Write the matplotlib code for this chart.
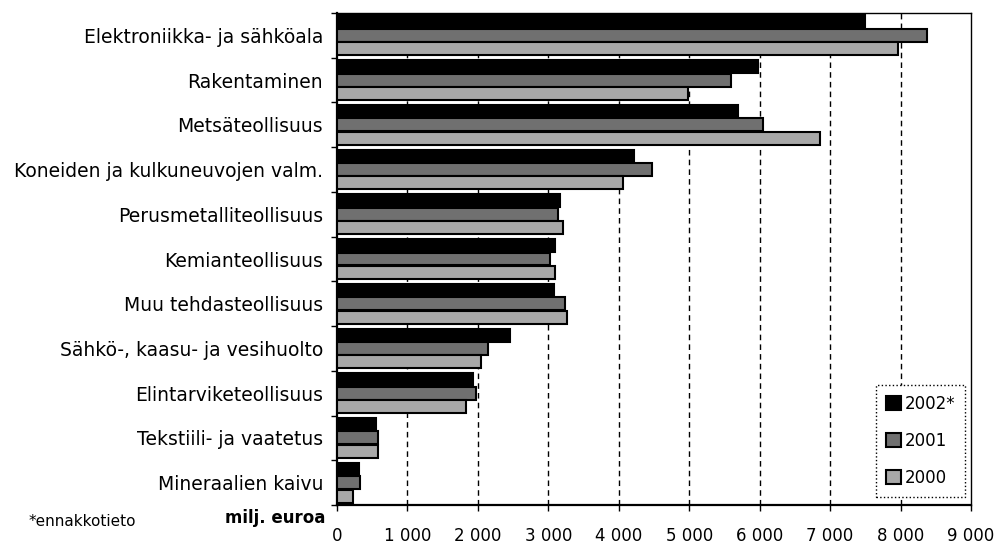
import numpy as np
import matplotlib
matplotlib.use("Agg")
import matplotlib.pyplot as plt
from matplotlib.ticker import FuncFormatter

categories = [
    "Elektroniikka- ja sähköala",
    "Rakentaminen",
    "Metsäteollisuus",
    "Koneiden ja kulkuneuvojen valm.",
    "Perusmetalliteollisuus",
    "Kemianteollisuus",
    "Muu tehdasteollisuus",
    "Sähkö-, kaasu- ja vesihuolto",
    "Elintarviketeollisuus",
    "Tekstiili- ja vaatetus",
    "Mineraalien kaivu",
]
v2002 = [7500, 5970, 5690, 4210, 3160, 3100, 3080, 2450, 1930, 550, 315]
v2001 = [8380, 5600, 6050, 4470, 3130, 3030, 3240, 2140, 1975, 575, 320]
v2000 = [7960, 4980, 6850, 4060, 3210, 3100, 3270, 2050, 1825, 575, 225]
series_labels = ["2002*", "2001", "2000"]
series_colors = ["#000000", "#707070", "#a8a8a8"]

fig = plt.figure(figsize=(10.01, 5.47), dpi=100)
ax = fig.add_axes([0.3367, 0.0768, 0.6333, 0.8994])

y = np.arange(len(categories))
h = 0.29
offsets = [-0.3, 0.0, 0.3]
for vals, off, col, lab in zip([v2002, v2001, v2000], offsets, series_colors, series_labels):
    ax.barh(y + off, vals, height=h, color=col, edgecolor="black", linewidth=1.5, label=lab, zorder=3)

ax.set_xlim(0, 9000)
ax.set_ylim(len(categories) - 0.5, -0.5)

ax.set_xticks(np.arange(0, 9001, 1000))
ax.xaxis.set_major_formatter(FuncFormatter(lambda v, p: f"{int(v):,}".replace(",", " ")))
ax.tick_params(axis="x", labelsize=12, length=4, width=1, pad=12, direction="out")

ax.set_yticks(y)
ax.set_yticklabels(categories, fontsize=13.5)
ax.set_yticks(np.arange(-0.5, len(categories), 1.0), minor=True)
ax.tick_params(axis="y", which="major", length=0, pad=10)
ax.tick_params(axis="y", which="minor", length=4, width=1, direction="out")

for xv in range(1000, 9000, 1000):
    ax.axvline(xv, color="black", linewidth=1, linestyle=(0, (4, 3)), zorder=1)

for s in ["left", "bottom"]:
    ax.spines[s].set_linewidth(1.6)
for s in ["top", "right"]:
    ax.spines[s].set_linewidth(1.0)

leg = ax.legend(loc="lower right", bbox_to_anchor=(0.964, 0.0914), bbox_transform=fig.transFigure,
                fontsize=12, handlelength=0.9, handleheight=0.9, handletextpad=0.2,
                labelspacing=1.15, borderpad=0.6, borderaxespad=0, fancybox=False, framealpha=1)
leg.get_frame().set_edgecolor("black")
leg.get_frame().set_linestyle(":")
leg.get_frame().set_linewidth(1.0)

fig.text(0.029, 0.0475, "*ennakkotieto", fontsize=11, ha="left", va="center")
fig.text(0.3247, 0.053, "milj. euroa", fontsize=12, fontweight="bold", ha="right", va="center")

fig.savefig("out.png", dpi=100)
